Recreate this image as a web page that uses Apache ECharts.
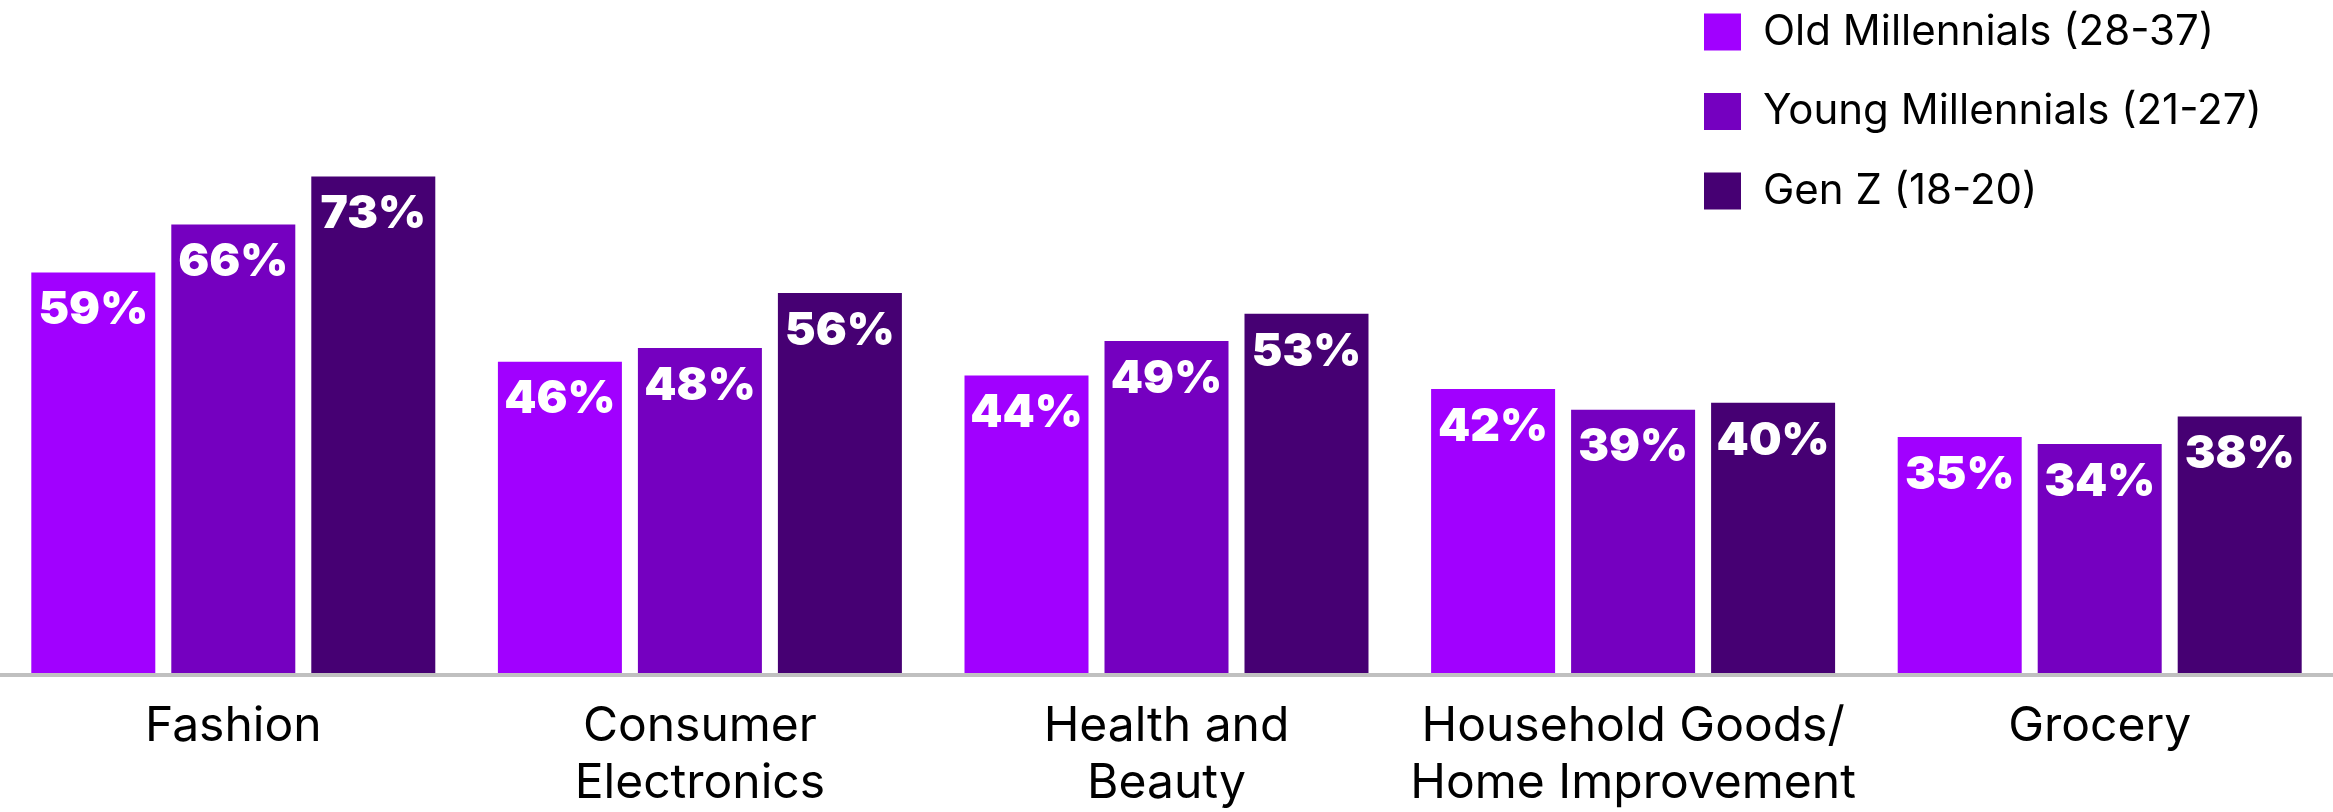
<!DOCTYPE html>
<html>
<head>
<meta charset="utf-8">
<title>Shopping categories by generation</title>
<script src="https://cdn.jsdelivr.net/npm/echarts@6/dist/echarts.min.js"></script>
<style>
  html, body { margin: 0; padding: 0; background: #ffffff; }
  #chart { width: 2333px; height: 812px; }
</style>
</head>
<body>
<div id="chart"></div>
<script>
// Categories along the x axis
const categories = [
  'Fashion',
  'Consumer\nElectronics',
  'Health and\nBeauty',
  'Household Goods/\nHome Improvement',
  'Grocery'
];

// Series names (legend)
const seriesNames = [
  'Old Millennials (28-37)',
  'Young Millennials (21-27)',
  'Gen Z (18-20)'
];

// Share of respondents per category, in percent
const oldMillennials   = [59, 46, 44, 42, 35];
const youngMillennials = [66, 48, 49, 39, 34];
const genZ             = [73, 56, 53, 40, 38];

const seriesColors = ['#a100ff', '#7500c0', '#460073'];

const chart = echarts.init(document.getElementById('chart'), null, { renderer: 'canvas' });

function barSeries(name, data, color) {
  return {
    name: name,
    type: 'bar',
    data: data,
    barWidth: 124,
    barGap: '12.9%',
    itemStyle: { color: color },
    label: {
      show: true,
      position: 'insideTop',
      distance: 15,
      formatter: '{c}%',
      color: '#ffffff',
      fontFamily: 'Inter',
      fontWeight: 900,
      fontSize: 46
    }
  };
}

chart.setOption({
  animation: false,
  backgroundColor: '#ffffff',
  // the plot runs slightly past the right edge so the last group sits where it should
  grid: { left: 0, width: 2341, top: 128.6, bottom: 129, containLabel: false },
  legend: {
    orient: 'vertical',
    left: 1699,
    top: 6,
    itemWidth: 37,
    itemHeight: 37,
    itemGap: 37.5,
    icon: 'rect',
    selectedMode: false,
    textStyle: {
      fontFamily: 'Inter',
      fontSize: 42,
      lineHeight: 42,
      color: '#000000',
      padding: [0, 0, 0, 17]
    },
    data: seriesNames
  },
  xAxis: {
    type: 'category',
    data: categories,
    offset: -2,
    z: 5,
    axisLine: { show: true, lineStyle: { color: '#c0c0c0', width: 4 } },
    axisTick: { show: false },
    axisLabel: {
      margin: 23,
      fontFamily: 'Inter',
      fontSize: 48,
      lineHeight: 57,
      color: '#000000',
      interval: 0
    }
  },
  yAxis: {
    type: 'value',
    min: 0,
    max: 80,
    show: false,
    splitLine: { show: false }
  },
  series: [
    barSeries(seriesNames[0], oldMillennials, seriesColors[0]),
    barSeries(seriesNames[1], youngMillennials, seriesColors[1]),
    barSeries(seriesNames[2], genZ, seriesColors[2])
  ]
});
</script>
</body>
</html>
